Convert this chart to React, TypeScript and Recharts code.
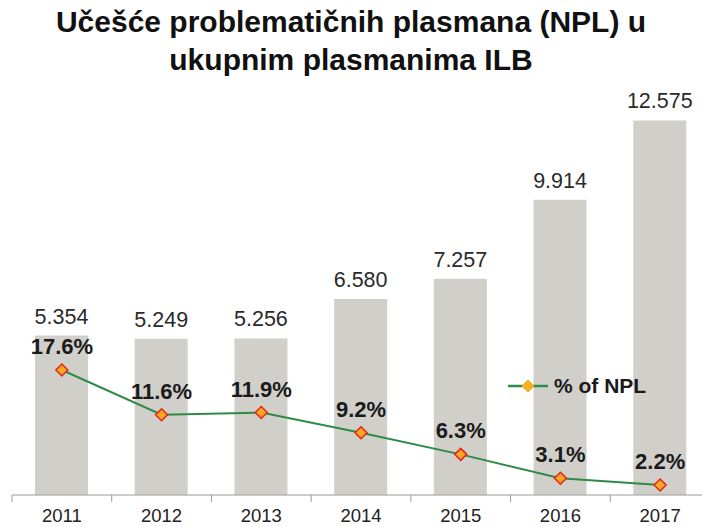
import React from "react";
import { ComposedChart, Bar, Line, XAxis, YAxis, LabelList } from "recharts";

const years = ["2011", "2012", "2013", "2014", "2015", "2016", "2017"];
const volumes = [5.354, 5.249, 5.256, 6.58, 7.257, 9.914, 12.575];
const nplShare = [17.6, 11.6, 11.9, 9.2, 6.3, 3.1, 2.2];

const data = years.map((year, i) => ({
  year,
  volume: volumes[i],
  npl: nplShare[i],
}));

const FONT = "'Liberation Sans', Arial, sans-serif";

const Diamond = (props: any) => {
  const { cx, cy } = props;
  if (cx == null || cy == null) return null;
  const r = 6;
  return (
    <polygon
      points={`${cx},${cy - r} ${cx + r},${cy} ${cx},${cy + r} ${cx - r},${cy}`}
      fill="#F7A823"
      stroke="#E8231B"
      strokeWidth={1.5}
    />
  );
};

// ticks sit on the category boundaries, not the centres
const YearTick = (props: any) => {
  const { x, payload } = props;
  const half = 49.85;
  return (
    <g>
      <line x1={x - half} x2={x - half} y1={495} y2={502} stroke="#9a9a9a" />
      <text
        x={x}
        y={522}
        textAnchor="middle"
        fontSize={18.5}
        fill="#222"
        fontFamily={FONT}
      >
        {payload.value}
      </text>
    </g>
  );
};

const LegendBox = () => (
  <div
    style={{
      position: "absolute",
      left: 506,
      top: 374,
      display: "flex",
      alignItems: "center",
      fontFamily: FONT,
    }}
  >
    <svg width={44} height={16}>
      <line x1={2} x2={42} y1={8} y2={8} stroke="#2E8B47" strokeWidth={2.5} />
      <polygon points="22,2 28,8 22,14 16,8" fill="#F7B023" stroke="#F7A823" />
    </svg>
    <span style={{ fontSize: 21, fontWeight: "bold", color: "#1a1a1a", marginLeft: 4 }}>
      % of NPL
    </span>
  </div>
);

export default function App() {
  return (
    <div
      style={{
        position: "absolute",
        left: 0,
        top: 0,
        width: 702,
        height: 527,
        overflow: "hidden",
        background: "#fff",
      }}
    >
      <div
        style={{
          position: "absolute",
          left: 0,
          top: 3,
          width: 702,
          textAlign: "center",
          fontFamily: FONT,
          fontWeight: "bold",
          fontSize: 30,
          lineHeight: "38px",
          color: "#111",
        }}
      >
        Učešće problematičnih plasmana (NPL) u
        <br />
        ukupnim plasmanima ILB
      </div>
      <div style={{ position: "absolute", left: 0, top: 0 }}>
        <ComposedChart
          width={710}
          height={527}
          data={data}
          margin={{ top: 78, right: 0, bottom: 0, left: 12 }}
        >
          <XAxis
            dataKey="year"
            height={32}
            tickLine={false}
            axisLine={{ stroke: "#9a9a9a" }}
            tick={<YearTick />}
            interval={0}
          />
          <YAxis yAxisId="left" hide domain={[0, 14]} allowDataOverflow />
          <YAxis
            yAxisId="right"
            hide
            orientation="right"
            type="number"
            domain={[0.86, 56.69]}
            allowDataOverflow
          />
          <Bar
            yAxisId="left"
            dataKey="volume"
            fill="#D0CFCA"
            barSize={53}
            isAnimationActive={false}
          >
            <LabelList
              dataKey="volume"
              position="top"
              offset={12}
              formatter={(v: any) => Number(v).toFixed(3)}
              style={{ fontSize: 21.5, fill: "#2a2a2a", fontFamily: FONT }}
            />
          </Bar>
          <Line
            yAxisId="right"
            dataKey="npl"
            name="% of NPL"
            stroke="#2E8B47"
            strokeWidth={2}
            dot={<Diamond />}
            activeDot={false}
            isAnimationActive={false}
          >
            <LabelList
              dataKey="npl"
              position="top"
              offset={16}
              formatter={(v: any) => `${Number(v).toFixed(1)}%`}
              style={{
                fontSize: 22,
                fontWeight: "bold",
                fill: "#1a1a1a",
                fontFamily: FONT,
              }}
            />
          </Line>
        </ComposedChart>
      </div>
      <LegendBox />
    </div>
  );
}
